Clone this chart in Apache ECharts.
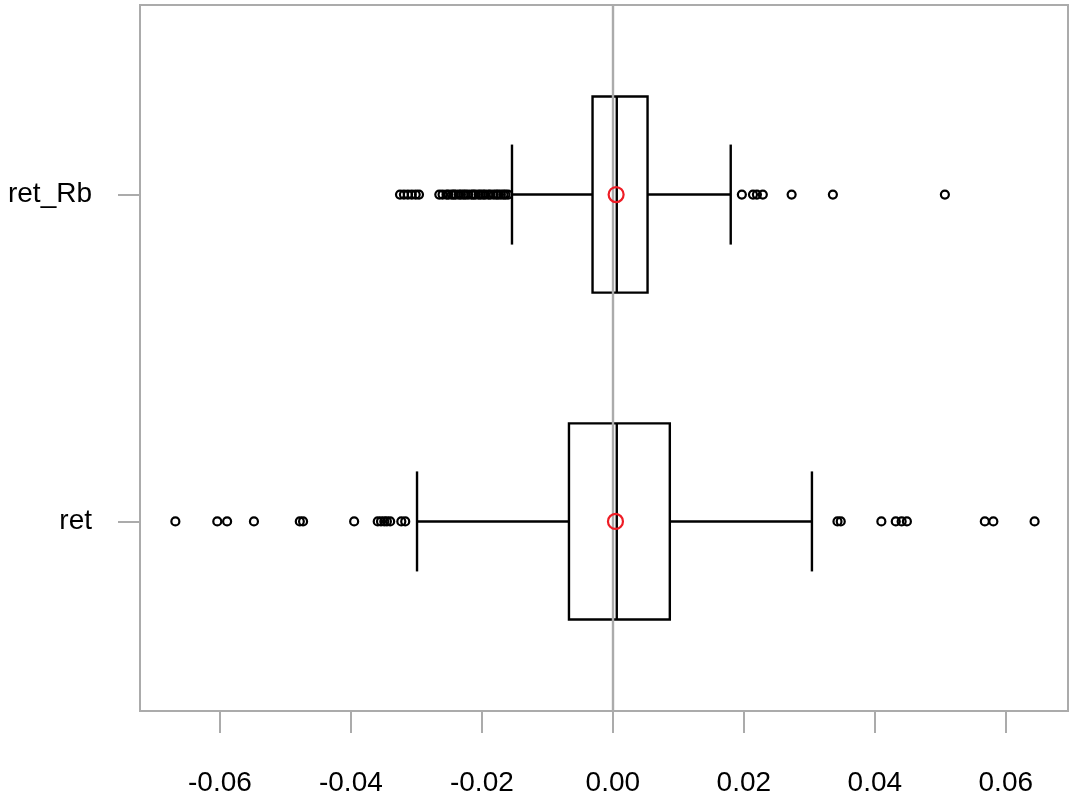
<!DOCTYPE html>
<html>
<head>
<meta charset="utf-8">
<style>
  html, body { margin: 0; padding: 0; background: #fff; }
  #chart { width: 1080px; height: 808px; }
</style>
<script src="https://cdn.jsdelivr.net/npm/echarts@6/dist/echarts.min.js"></script>
</head>
<body>
<div id="chart"></div>
<script>
// categories, bottom to top (ret at y=1, ret_Rb at y=2)
var categories = ['ret', 'ret_Rb'];

// box statistics, one value per category
var whiskerLow  = [-0.0299, -0.0154];
var q1          = [-0.0067, -0.0031];
var median      = [0.0006, 0.0006];
var q3          = [0.0087, 0.0053];
var whiskerHigh = [0.0304, 0.0180];
var means       = [0.0004, 0.0005];

// outliers
var outliersRet = [-0.0668, -0.0604, -0.0589, -0.0548, -0.0478, -0.0473, -0.0395,
  -0.0359, -0.0354, -0.0349, -0.0345, -0.0340, -0.0323, -0.0317,
  0.0343, 0.0348, 0.0410, 0.0432, 0.0441, 0.0449, 0.0568, 0.0581, 0.0644];
var outliersRetRb = [-0.0325, -0.0319, -0.0313, -0.0307, -0.0301, -0.0296,
  -0.0265, -0.0260, -0.0254, -0.0251, -0.0246, -0.0243, -0.0240, -0.0235, -0.0232,
  -0.0228, -0.0225, -0.0221, -0.0216, -0.0213, -0.0210, -0.0205, -0.0202, -0.0198,
  -0.0195, -0.0190, -0.0187, -0.0182, -0.0178, -0.0175, -0.0171, -0.0167, -0.0164, -0.0160,
  0.0197, 0.0214, 0.0220, 0.0229, 0.0273, 0.0336, 0.0507];

// tick labels
var xTicks = [-0.06, -0.04, -0.02, 0.00, 0.02, 0.04, 0.06];
var yTicks = [1, 2];

var FONT = "'Liberation Sans', Arial, sans-serif";
var GRAY = '#ababab';
var BOX_HALF = 0.3;
var CAP_HALF = 0.153;

var chart = echarts.init(document.getElementById('chart'));

// build box rows: [y, low, q1, median, q3, high]
var boxData = categories.map(function (c, i) {
  return [i + 1, whiskerLow[i], q1[i], median[i], q3[i], whiskerHigh[i]];
});
var outlierData = [];
outliersRet.forEach(function (v) { outlierData.push([v, 1]); });
outliersRetRb.forEach(function (v) { outlierData.push([v, 2]); });
var meanData = means.map(function (v, i) { return [v, i + 1]; });

function renderBox(params, api) {
  var y = api.value(0);
  var lo = api.value(1), a = api.value(2), m = api.value(3), b = api.value(4), hi = api.value(5);
  function line(x1, y1, x2, y2) {
    var p1 = api.coord([x1, y1]), p2 = api.coord([x2, y2]);
    return {
      type: 'line',
      shape: { x1: p1[0], y1: p1[1], x2: p2[0], y2: p2[1] },
      style: { stroke: '#000', lineWidth: 2.4 }
    };
  }
  var tl = api.coord([a, y + BOX_HALF]);
  var br = api.coord([b, y - BOX_HALF]);
  return {
    type: 'group',
    children: [
      line(lo, y, a, y),
      line(b, y, hi, y),
      line(lo, y - CAP_HALF, lo, y + CAP_HALF),
      line(hi, y - CAP_HALF, hi, y + CAP_HALF),
      {
        type: 'rect',
        shape: { x: tl[0], y: tl[1], width: br[0] - tl[0], height: br[1] - tl[1] },
        style: { stroke: '#000', lineWidth: 2.4, fill: 'rgba(0,0,0,0)' }
      },
      line(m, y - BOX_HALF, m, y + BOX_HALF)
    ]
  };
}

var option = {
  backgroundColor: '#fff',
  animation: false,
  grid: {
    left: 140, right: 12, top: 5, bottom: 97,
    show: true, borderColor: GRAY, borderWidth: 2
  },
  xAxis: {
    type: 'value',
    min: -0.0722, max: 0.0695,
    axisLine: { show: true, onZero: false, lineStyle: { color: GRAY, width: 2 } },
    axisTick: { show: true, length: 22, customValues: xTicks, lineStyle: { color: GRAY, width: 2 } },
    axisLabel: {
      customValues: xTicks, margin: 58, color: '#000', fontSize: 28, fontFamily: FONT,
      formatter: function (v) { return v.toFixed(2); }
    },
    splitLine: { show: false }
  },
  yAxis: {
    type: 'value',
    min: 0.42, max: 2.58,
    axisLine: { show: true, onZero: false, lineStyle: { color: GRAY, width: 2 } },
    axisTick: { show: true, length: 22, customValues: yTicks, lineStyle: { color: GRAY, width: 2 } },
    axisLabel: {
      customValues: yTicks, margin: 48, color: '#000', fontSize: 28, fontFamily: FONT,
      formatter: function (v) { return categories[Math.round(v) - 1]; }
    },
    splitLine: { show: false }
  },
  series: [
    {
      type: 'scatter',
      data: outlierData,
      symbol: 'circle',
      symbolSize: 8,
      itemStyle: { color: 'rgba(0,0,0,0)', borderColor: '#000', borderWidth: 2.2, opacity: 1 },
      z: 3,
      markLine: {
        silent: true,
        symbol: 'none',
        label: { show: false },
        lineStyle: { color: GRAY, width: 2.4, type: 'solid' },
        data: [{ xAxis: 0 }]
      }
    },
    {
      type: 'custom',
      renderItem: renderBox,
      data: boxData,
      encode: { x: [1, 2, 3, 4, 5], y: 0 },
      z: 4
    },
    {
      type: 'scatter',
      data: meanData,
      symbol: 'circle',
      symbolSize: 15,
      itemStyle: { color: 'rgba(0,0,0,0)', borderColor: '#ee1c25', borderWidth: 2.2, opacity: 1 },
      z: 5
    }
  ]
};

chart.setOption(option);
</script>
</body>
</html>
